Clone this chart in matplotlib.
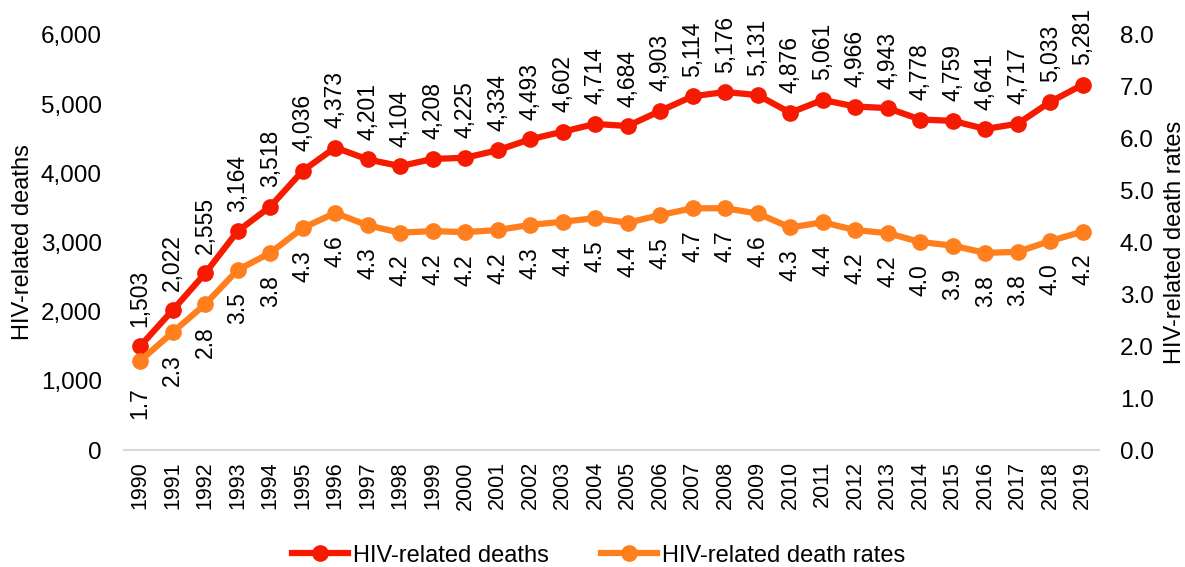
import matplotlib
matplotlib.use("Agg")
import matplotlib.pyplot as plt
from matplotlib.ticker import FuncFormatter, MultipleLocator

years = list(range(1990, 2020))
deaths = [1503, 2022, 2555, 3164, 3518, 4036, 4373, 4201, 4104, 4208,
          4225, 4334, 4493, 4602, 4714, 4684, 4903, 5114, 5176, 5131,
          4876, 5061, 4966, 4943, 4778, 4759, 4641, 4717, 5033, 5281]
rates = [1.72, 2.27, 2.81, 3.47, 3.80, 4.28, 4.57, 4.33, 4.19, 4.22,
         4.20, 4.24, 4.34, 4.40, 4.47, 4.38, 4.53, 4.66, 4.66, 4.56,
         4.29, 4.39, 4.24, 4.18, 4.01, 3.94, 3.80, 3.82, 4.03, 4.21]

RED = "#F51A00"
ORANGE = "#FF7F1E"

plt.rcParams["font.family"] = ["Liberation Sans", "DejaVu Sans"]

fig = plt.figure(figsize=(11.85, 5.67), dpi=100)
ax = fig.add_axes([0.1046, 0.2063, 0.8228, 0.732])
ax2 = ax.twinx()

x = list(range(len(years)))
l1, = ax.plot(x, deaths, color=RED, lw=4.5, marker="o", ms=11, zorder=3,
              label="HIV-related deaths")
l2, = ax2.plot(x, rates, color=ORANGE, lw=4.5, marker="o", ms=11, zorder=3,
               label="HIV-related death rates")

ax.set_xlim(-0.5, len(years) - 0.5)
ax.set_ylim(0, 6000)
ax2.set_ylim(0, 8)
ax.yaxis.set_major_locator(MultipleLocator(1000))
ax2.yaxis.set_major_locator(MultipleLocator(1.0))
ax.yaxis.set_major_formatter(FuncFormatter(lambda v, p: f"{int(v):,}"))
ax2.yaxis.set_major_formatter(FuncFormatter(lambda v, p: f"{v:.1f}"))

ax.set_xticks(x)
ax.set_xticklabels([str(y) for y in years], rotation=90, fontsize=15.5)
ax.tick_params(axis="x", length=0, pad=8)
ax.tick_params(axis="y", length=0, labelsize=17.5, pad=16)
ax2.tick_params(axis="y", length=0, labelsize=17.5, pad=15)

for a in (ax, ax2):
    for s in ("top", "left", "right"):
        a.spines[s].set_visible(False)
    a.spines["bottom"].set_color("#D9D9D9")
    a.spines["bottom"].set_linewidth(1.5)

ax.set_ylabel("HIV-related deaths", fontsize=17, labelpad=5)
ax2.set_ylabel("HIV-related death rates", fontsize=17, labelpad=7)

for i, v in enumerate(deaths):
    ax.annotate(f"{v:,}", (i, v), xytext=(0, 14), textcoords="offset points",
                rotation=90, ha="center", va="bottom", fontsize=16.5)
for i, v in enumerate(rates):
    off = -19 if i == 0 else -16
    ax2.annotate(f"{v:.1f}", (i, v), xytext=(0, off), textcoords="offset points",
                 rotation=90, ha="center", va="top", fontsize=16.5)

fig.legend(handles=[l1, l2], loc="center", bbox_to_anchor=(0.505, 0.02),
           ncol=2, frameon=False, fontsize=17, handlelength=2.4,
           columnspacing=2.2, handletextpad=0.2)

fig.savefig("out.png", dpi=100)
